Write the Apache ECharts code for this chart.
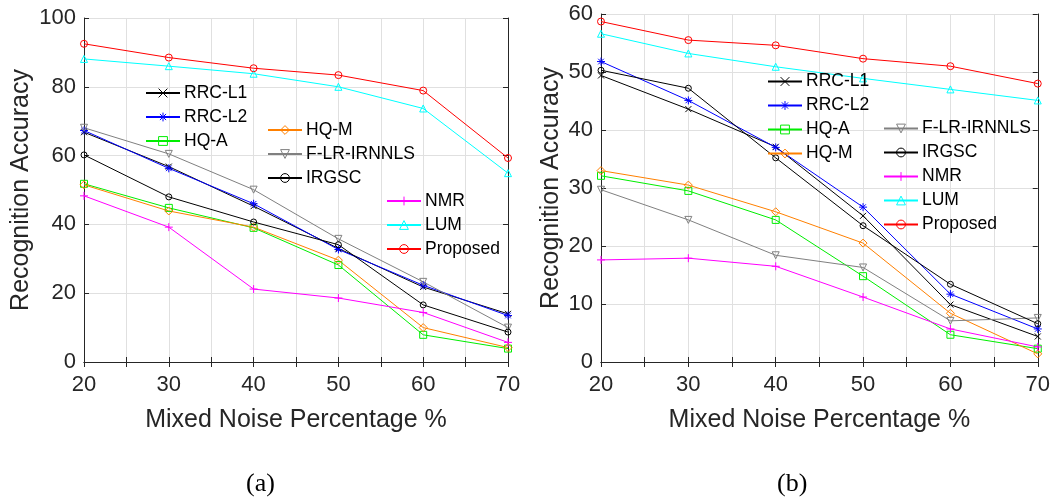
<!DOCTYPE html>
<html>
<head>
<meta charset="utf-8">
<script src="https://cdn.jsdelivr.net/npm/echarts@6/dist/echarts.min.js"></script>
<style>
html,body{margin:0;padding:0;background:#fff;}
#main{width:1053px;height:500px;}
</style>
</head>
<body>
<div id="main"></div>
<script>
// ---- data ----
const noise = [20, 30, 40, 50, 60, 70];
const seriesNames = ['RRC-L1','RRC-L2','HQ-A','HQ-M','F-LR-IRNNLS','IRGSC','NMR','LUM','Proposed'];

// chart (a)
const a_RRC_L1   = [66.8, 56.8, 45.3, 33.0, 21.8, 14.0];
const a_RRC_L2   = [67.3, 56.3, 46.0, 32.7, 22.3, 13.5];
const a_HQ_A     = [51.8, 44.8, 39.0, 28.2, 7.9, 3.9];
const a_HQ_M     = [51.5, 43.9, 39.2, 29.6, 10.0, 4.2];
const a_FLR      = [68.1, 60.5, 50.1, 35.8, 23.3, 10.0];
const a_IRGSC    = [60.2, 48.0, 40.7, 34.1, 16.6, 8.7];
const a_NMR      = [48.3, 39.2, 21.2, 18.6, 14.4, 5.7];
const a_LUM      = [88.1, 86.0, 83.8, 80.0, 73.7, 54.9];
const a_Proposed = [92.5, 88.5, 85.4, 83.4, 78.9, 59.3];

// chart (b)
const b_RRC_L1   = [49.4, 43.6, 37.1, 25.2, 9.9, 4.4];
const b_RRC_L2   = [51.8, 45.1, 37.0, 26.7, 11.7, 5.7];
const b_HQ_A     = [32.1, 29.5, 24.5, 14.8, 4.7, 2.3];
const b_HQ_M     = [33.0, 30.5, 25.9, 20.5, 8.4, 1.4];
const b_FLR      = [29.7, 24.5, 18.4, 16.3, 7.1, 7.6];
const b_IRGSC    = [50.3, 47.2, 35.2, 23.5, 13.4, 6.6];
const b_NMR      = [17.6, 17.9, 16.5, 11.2, 5.7, 2.6];
const b_LUM      = [56.6, 53.2, 50.9, 48.9, 47.0, 45.1];
const b_Proposed = [58.7, 55.5, 54.6, 52.3, 51.0, 48.0];

const aData = [a_RRC_L1, a_RRC_L2, a_HQ_A, a_HQ_M, a_FLR, a_IRGSC, a_NMR, a_LUM, a_Proposed];
const bData = [b_RRC_L1, b_RRC_L2, b_HQ_A, b_HQ_M, b_FLR, b_IRGSC, b_NMR, b_LUM, b_Proposed];

const xLabel = 'Mixed Noise Percentage %';
const yLabel = 'Recognition Accuracy';
const subLabels = ['(a)', '(b)'];

// ---- styles ----
const colors = ['#000000','#0000ff','#00ee00','#ff8000','#808080','#000000','#ff00ff','#00ffff','#ff0000'];
const symbols = [
  'path://M0,0L1,1M1,0L0,1',
  'path://M0.5,0L0.5,1M0,0.5L1,0.5M0.15,0.15L0.85,0.85M0.85,0.15L0.15,0.85',
  'rect','diamond','triangle','circle',
  'path://M0.5,0L0.5,1M0,0.5L1,0.5',
  'triangle','circle'
];
const rotates = [0,0,0,0,180,0,0,0,0];
const sizes = [6,8,7,8,7,6,8,7,7];

const FONT = 'Liberation Sans, Arial, sans-serif';
const TXT = '#262626';

function makeSeries(dataArr, gi) {
  return dataArr.map((vals, i) => ({
    name: seriesNames[i],
    type: 'line',
    xAxisIndex: gi * 2,
    yAxisIndex: gi * 2,
    data: noise.map((x, k) => [x, vals[k]]),
    symbol: symbols[i],
    symbolSize: sizes[i],
    symbolRotate: rotates[i],
    showAllSymbol: true,
    color: colors[i],
    lineStyle: { color: colors[i], width: 1 },
    itemStyle: { color: 'transparent', borderColor: colors[i], borderWidth: 1 },
    emphasis: { disabled: true },
    z: 3
  }));
}

function xAxes(gi, nameGap) {
  return [
    {
      type: 'value', gridIndex: gi, position: 'bottom', min: 20, max: 70, interval: 5,
      axisLine: { show: true, lineStyle: { color: TXT, width: 1 } },
      axisTick: { show: true, inside: true, length: 5, lineStyle: { color: TXT } },
      axisLabel: { show: true, margin: 12, fontSize: 22, color: TXT, fontFamily: FONT,
        formatter: v => (v % 10 === 0 ? String(v) : '') },
      splitLine: { show: true, lineStyle: { color: '#e0e0e0', width: 1 } },
      name: xLabel, nameLocation: 'middle', nameGap: nameGap,
      nameTextStyle: { fontSize: 25, color: TXT, fontFamily: FONT }
    },
    {
      type: 'value', gridIndex: gi, position: 'top', min: 20, max: 70, interval: 5,
      axisLine: { show: true, lineStyle: { color: TXT, width: 1 } },
      axisTick: { show: true, inside: true, length: 5, lineStyle: { color: TXT } },
      axisLabel: { show: false }, splitLine: { show: false }
    }
  ];
}

function yAxes(gi, max, interval, nameGap) {
  return [
    {
      type: 'value', gridIndex: gi, position: 'left', min: 0, max: max, interval: interval,
      axisLine: { show: true, lineStyle: { color: TXT, width: 1 } },
      axisTick: { show: true, inside: true, length: 5, lineStyle: { color: TXT } },
      axisLabel: { show: true, margin: 8, fontSize: 22, color: TXT, fontFamily: FONT },
      splitLine: { show: true, lineStyle: { color: '#e0e0e0', width: 1 } },
      name: yLabel, nameLocation: 'middle', nameGap: nameGap, nameRotate: 90,
      nameTextStyle: { fontSize: 25, color: TXT, fontFamily: FONT }
    },
    {
      type: 'value', gridIndex: gi, position: 'right', min: 0, max: max, interval: interval,
      axisLine: { show: true, lineStyle: { color: TXT, width: 1 } },
      axisTick: { show: true, inside: true, length: 5, lineStyle: { color: TXT } },
      axisLabel: { show: false }, splitLine: { show: false }
    }
  ];
}

function legend(names, left, top) {
  return {
    data: names, orient: 'vertical', left: left, top: top, padding: 0,
    itemWidth: 34, itemHeight: 11, itemGap: 6,
    itemStyle: { color: 'transparent', borderColor: 'inherit', borderWidth: 1 },
    textStyle: { fontSize: 17.5, color: '#000', fontFamily: FONT, padding: [0,0,0,-1] },
    selectedMode: false
  };
}

const option = {
  animation: false,
  backgroundColor: '#fff',
  grid: [
    { left: 84, top: 18, width: 424, height: 344 },
    { left: 601, top: 14, width: 437, height: 348 }
  ],
  xAxis: [...xAxes(0, 46), ...xAxes(1, 46)],
  yAxis: [...yAxes(0, 100, 20, 50), ...yAxes(1, 60, 10, 37)],
  legend: [
    legend(['RRC-L1','RRC-L2','HQ-A'], 145, 84),
    legend(['HQ-M','F-LR-IRNNLS','IRGSC'], 267, 121),
    legend(['NMR','LUM','Proposed'], 386, 192),
    legend(['RRC-L1','RRC-L2','HQ-A','HQ-M'], 767, 72.5),
    legend(['F-LR-IRNNLS','IRGSC','NMR','LUM','Proposed'], 883, 119.5)
  ],
  graphic: [
    { type: 'text', left: 260 - 14, top: 471, style: { text: subLabels[0], fontSize: 26, fill: '#000', fontFamily: 'Liberation Serif, Times New Roman, serif' } },
    { type: 'text', left: 791 - 14, top: 471, style: { text: subLabels[1], fontSize: 26, fill: '#000', fontFamily: 'Liberation Serif, Times New Roman, serif' } }
  ],
  series: [...makeSeries(aData, 0), ...makeSeries(bData, 1)]
};

const chart = echarts.init(document.getElementById('main'), null, { renderer: 'canvas' });
chart.setOption(option);
</script>
</body>
</html>
